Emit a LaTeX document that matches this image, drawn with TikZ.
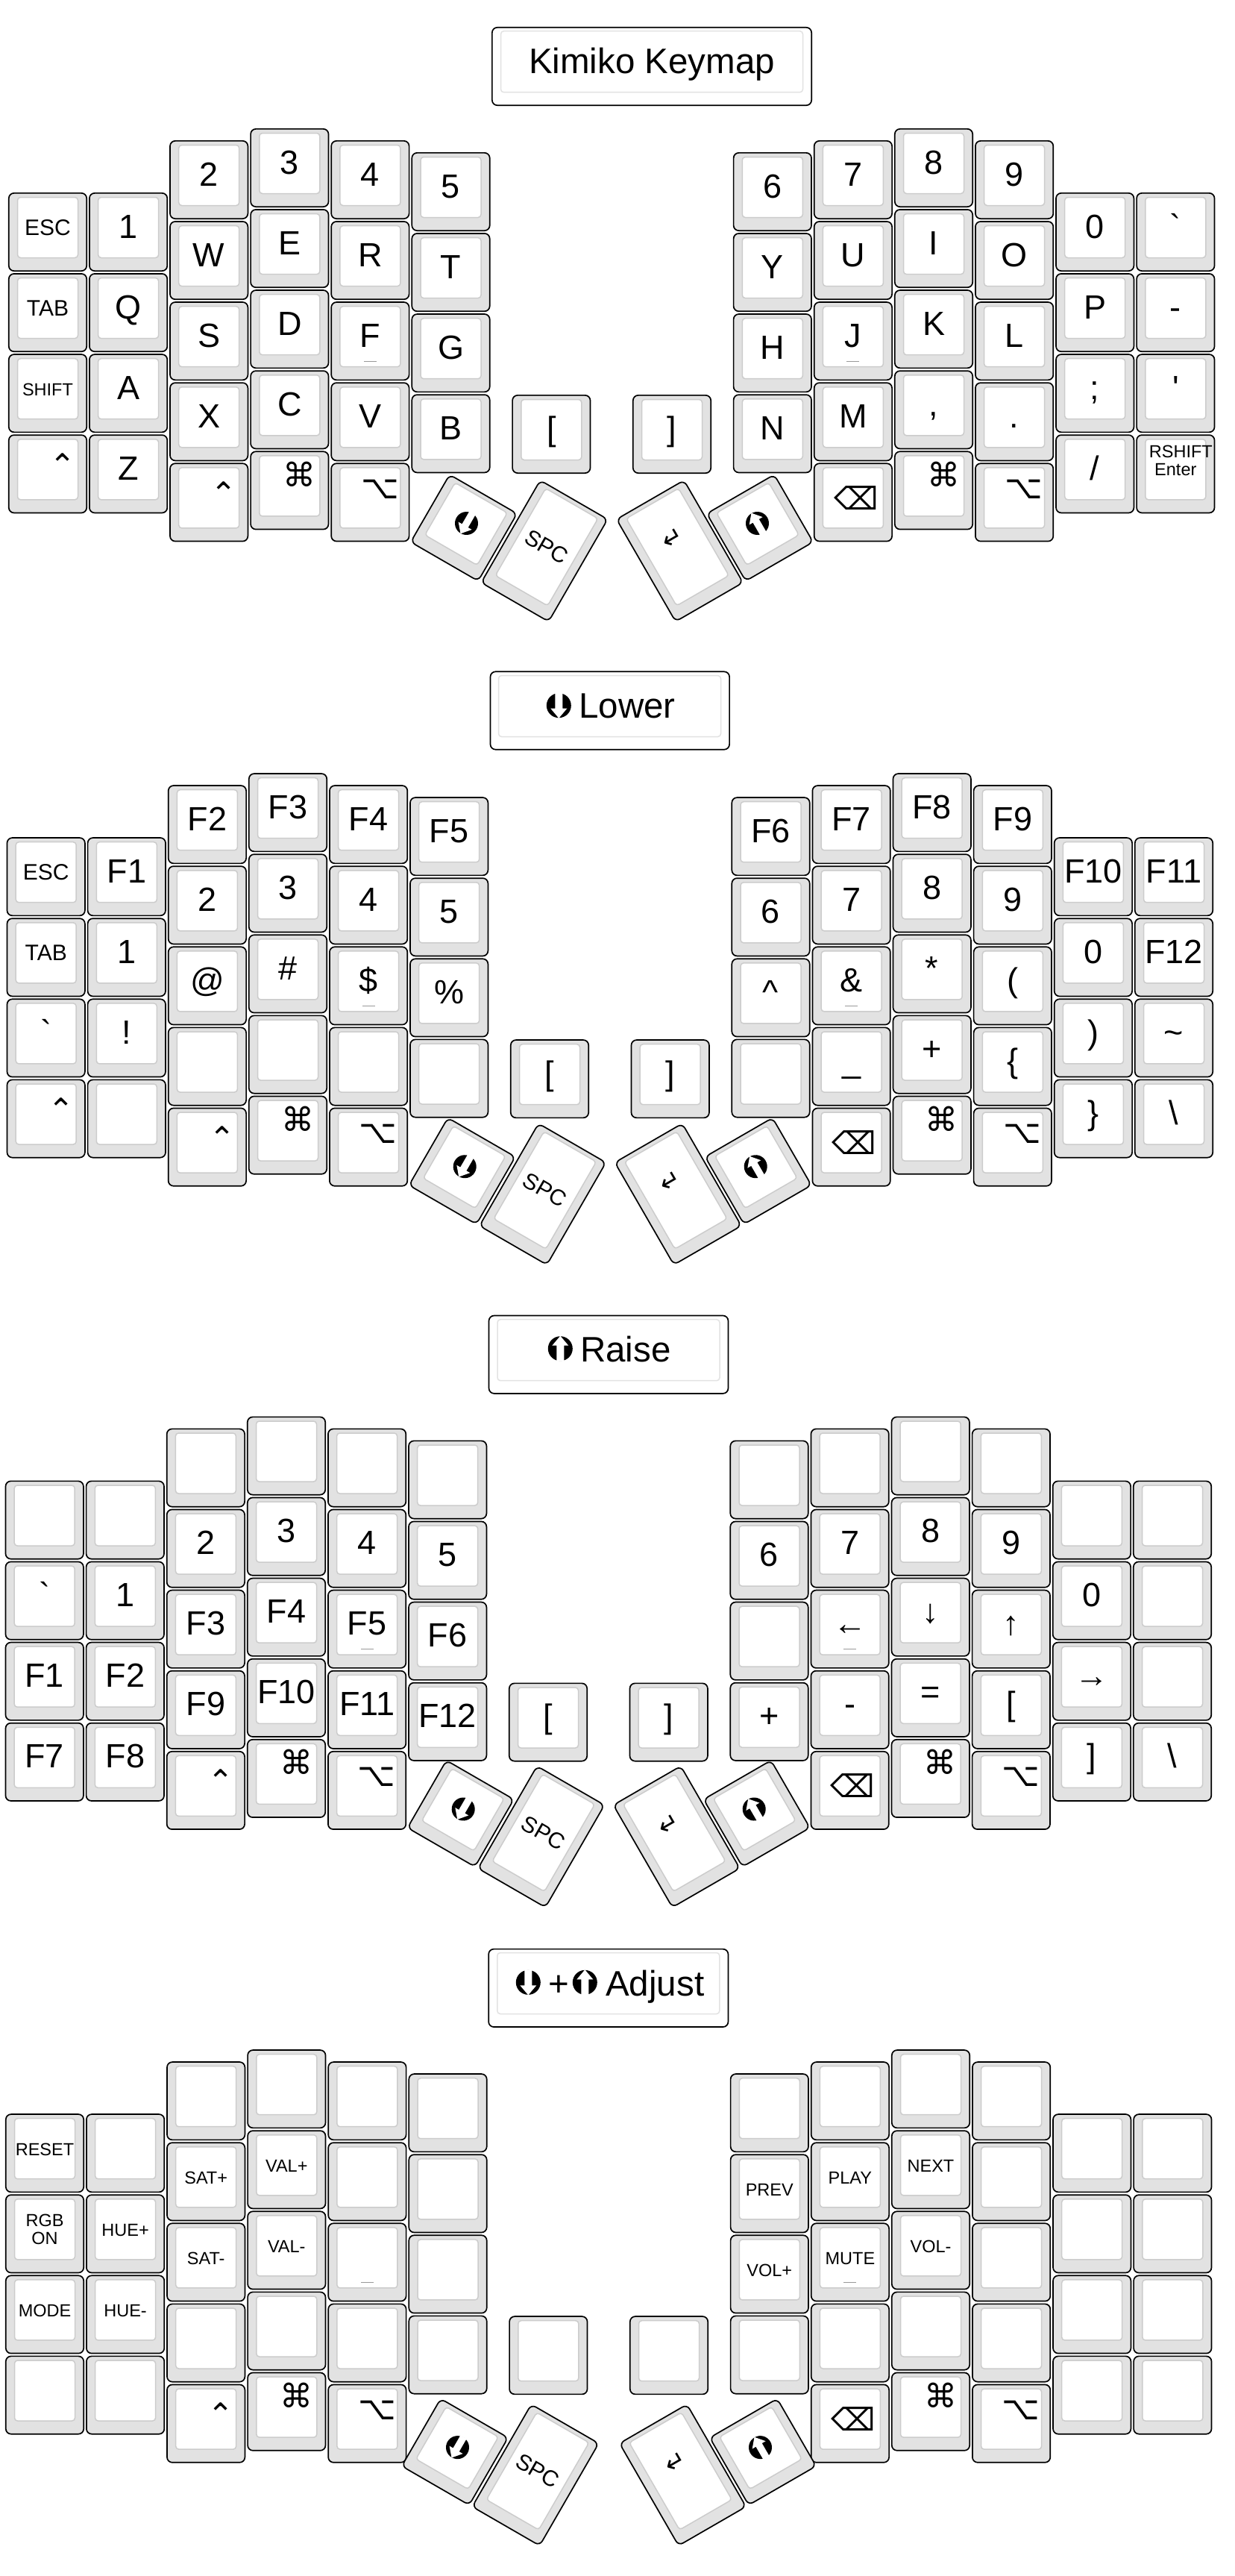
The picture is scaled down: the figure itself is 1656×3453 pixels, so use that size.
\documentclass[tikz,border=0pt]{standalone}
\usepackage{fontspec}
\setmainfont{Liberation Sans}
\newfontfamily\symfont{DejaVu Sans}
\usetikzlibrary{positioning}
\definecolor{keygrey}{HTML}{E2E2E2}
\definecolor{facegrey}{HTML}{CCCCCC}

% legend sizes, the key legend sits on one baseline
\newcommand\keysm[1]{\fontsize{23.5}{24}\selectfont\raisebox{5pt}{#1}}
\newcommand\keymd[1]{\fontsize{30}{32}\selectfont\raisebox{4pt}{#1}}
\newcommand\keytwo[5]{\fontsize{23.5}{24}\selectfont\makebox[0pt]{\hspace*{#5pt}\raisebox{#1pt}{#2}}\makebox[0pt]{\raisebox{#3pt}{#4}}}
\newcommand\keyglyph[4]{\symfont\fontsize{#3}{#3}\selectfont\hspace*{\dimexpr#1pt*2\relax}\raisebox{#2pt}{#4}}
\newcommand\lctrl{\keyglyph{20}{5}{42}{⌃}}
\newcommand\lcmd{\keyglyph{13}{13}{44}{⌘}}
\newcommand\lalt{\keyglyph{13}{13}{44}{⌥}}
\newcommand\lbksp{\keyglyph{4}{-2}{42}{⌫}}
\newcommand\lenter{\keyglyph{0}{16}{34}{↵}}

\tikzset{
    keybase/.style={rectangle, draw=black, line width=1.7pt, fill=keygrey, rounded corners=7pt, minimum width=104.4pt, transform shape},
    keyface/.style={rectangle, draw=facegrey, line width=1.5pt, fill=white, rounded corners=4pt, minimum width=81pt, transform shape},
    legend/.style={inner sep=0pt, anchor=base, transform shape, font=\fontsize{45}{48}\selectfont},
    homebar/.style={rectangle, fill=black!40, inner sep=0pt, minimum width=17pt, minimum height=1pt},
    titlebase/.style={rectangle, draw=black, line width=1.7pt, fill=white, rounded corners=7pt, minimum height=104.4pt},
    titleface/.style={rectangle, draw=keygrey, line width=1.5pt, fill=white, rounded corners=4pt, minimum height=82pt},
    titletext/.style={inner sep=0pt, anchor=base west, font=\fontsize{47.5}{50}\selectfont},
    lowericon/.pic={
        \fill[black] (0,0) circle (16.5);
        \fill[white] (-5,-17) -- (5,-17) -- (5,4) -- (11,4) -- (0,17) -- (-11,4) -- (-5,4) -- cycle;
    },
    raiseicon/.pic={
        \fill[black] (0,0) circle (16.5);
        \fill[white] (-5,17) -- (5,17) -- (5,-4) -- (11,-4) -- (0,-17) -- (-11,-4) -- (-5,-4) -- cycle;
    }
}

% name, centre x, centre y, angle, height, legend
\newcommand\keycap[6]{
    \begin{scope}[shift={(#2,#3)}, rotate=#4]
        \node[keybase, minimum height=#5pt-1.7pt] (#1) at (0,0) {};
        \node[keyface, minimum height=#5pt-25pt] (#1-face) at (0,-6) {};
        \node[legend] (#1-text) at (0,8) {#6};
    \end{scope}
}

% panel, column, legends from the top down
\newcommand\keycol[3]{
    \pgfmathsetmacro\colx{{11,119.1,227.2,335.3,443.4,551.5,982.8,1090.9,1199,1307.1,1415.2,1523.3}[#2]}
    \pgfmathsetmacro\coly{{258,258,188,172,188,204,204,188,172,188,258,258}[#2]}
    \foreach \lbl [count=\rw from 0] in {#3} {
        \keycap{#1-#2-\rw}{\colx+53}{\coly+53+108.1*\rw}{0}{106}{\lbl}
    }
}

% panel, shift of the left thumb keys, of the right ones, down
\newcommand\thumbs[4]{
    \keycap{#1-lowerkey}{622+#2}{707.5+#4}{-30}{106}{}
    \keycap{#1-spc}{730+#2}{738.5+#4}{-30}{160}{\keymd{SPC}}
    \keycap{#1-enter}{911.5+#3}{738.5+#4}{30}{160}{\lenter}
    \keycap{#1-raisekey}{1019+#3}{707.5+#4}{30}{106}{}
    \pic[rotate=-30, scale=.94] (#1-lowermark) at (625.5+#2,701.5+#4) {lowericon};
    \pic[rotate=30, scale=.94] (#1-raisemark) at (1015.5+#3,701.5+#4) {raiseicon};
    \node[homebar] (#1-leftbar) at ([yshift=-27pt]#1-4-2.center) {};
    \node[homebar] (#1-rightbar) at ([yshift=-27pt]#1-7-2.center) {};
}

\begin{document}
\begin{tikzpicture}[x=1pt, y=-1pt]
    \useasboundingbox (0,0) rectangle (1656,3453);

    % Kimiko Keymap
    \node[titlebase, minimum width=428.3pt] (a-title) at (874,89) {};
    \node[titleface, minimum width=405pt] (a-titleface) at (874,82.7) {};
    \node[titletext, anchor=base] (a-titletext) at (874,98.7) {Kimiko Keymap};
    \keycol{a}{0}{\keymd{ESC},\keymd{TAB},\keysm{SHIFT},\lctrl}
    \keycol{a}{1}{1,Q,A,Z}
    \keycol{a}{2}{2,W,S,X,\lctrl}
    \keycol{a}{3}{3,E,D,C,\lcmd}
    \keycol{a}{4}{4,R,F,V,\lalt}
    \keycol{a}{5}{5,T,G,B}
    \keycol{a}{6}{6,Y,H,N}
    \keycol{a}{7}{7,U,J,M,\lbksp}
    \keycol{a}{8}{8,I,K,{,},\lcmd}
    \keycol{a}{9}{9,O,L,{.},\lalt}
    \keycol{a}{10}{0,P,;,/}
    \keycol{a}{11}{\textasciigrave,-,\textquotesingle,\keytwo{30}{RSHIFT}{5.6}{Enter}{14}}
    \keycap{a-open}{739.3}{582}{0}{106}{[}
    \keycap{a-close}{901}{582}{0}{106}{]}
    \thumbs{a}{0}{0}{0}

    % Lower
    \node[titlebase, minimum width=320.6pt] (b-title) at (817.8,952.5) {};
    \node[titleface, minimum width=298pt] (b-titleface) at (817.5,946.5) {};
    \pic (b-titlemark) at (749.3,945.7) {lowericon};
    \node[titletext] (b-titletext) at (776,962.3) {Lower};
    \begin{scope}[shift={(-2.3,864.2)}]
        \keycol{b}{0}{\keymd{ESC},\keymd{TAB},\textasciigrave,\lctrl}
        \keycol{b}{1}{F1,1,!,{}}
        \keycol{b}{2}{F2,2,@,{},\lctrl}
        \keycol{b}{3}{F3,3,\#,{},\lcmd}
        \keycol{b}{4}{F4,4,\$,{},\lalt}
        \keycol{b}{5}{F5,5,\%,{}}
        \keycol{b}{6}{F6,6,\textasciicircum,{}}
        \keycol{b}{7}{F7,7,\&,\_,\lbksp}
        \keycol{b}{8}{F8,8,*,+,\lcmd}
        \keycol{b}{9}{F9,9,{(},\{,\lalt}
        \keycol{b}{10}{F10,0,{)},\}}
        \keycol{b}{11}{F11,F12,\textasciitilde,\textbackslash}
        \keycap{b-open}{739.3}{582}{0}{106}{[}
        \keycap{b-close}{901}{582}{0}{106}{]}
        \thumbs{b}{0}{0}{-2}
    \end{scope}

    % Raise
    \node[titlebase, minimum width=320.9pt] (c-title) at (816,1815.7) {};
    \node[titleface, minimum width=298pt] (c-titleface) at (816,1809.7) {};
    \pic (c-titlemark) at (751.3,1807.7) {raiseicon};
    \node[titletext] (c-titletext) at (778,1825.7) {Raise};
    \begin{scope}[shift={(-4.3,1726.5)}]
        \keycol{c}{0}{{},\textasciigrave,F1,F7}
        \keycol{c}{1}{{},1,F2,F8}
        \keycol{c}{2}{{},2,F3,F9,\lctrl}
        \keycol{c}{3}{{},3,F4,F10,\lcmd}
        \keycol{c}{4}{{},4,F5,F11,\lalt}
        \keycol{c}{5}{{},5,F6,F12}
        \keycol{c}{6}{{},6,{},+}
        \keycol{c}{7}{{},7,←,-,\lbksp}
        \keycol{c}{8}{{},8,↓,=,\lcmd}
        \keycol{c}{9}{{},9,↑,{[},\lalt}
        \keycol{c}{10}{{},0,→,{]}}
        \keycol{c}{11}{{},{},{},\textbackslash}
        \keycap{c-open}{739.3}{582}{0}{106}{[}
        \keycap{c-close}{901}{582}{0}{106}{]}
        \thumbs{c}{0}{0}{-3}
    \end{scope}

    % Adjust
    \node[titlebase, minimum width=321.3pt] (d-title) at (815.8,2664.8) {};
    \node[titleface, minimum width=298pt] (d-titleface) at (815.8,2658.5) {};
    \pic (d-titlemarka) at (708.3,2657.3) {lowericon};
    \node[titletext, anchor=base] (d-titleplus) at (749.5,2675) {+};
    \pic (d-titlemarkb) at (784.3,2657.3) {raiseicon};
    \node[titletext] (d-titletext) at (812,2675) {Adjust};
    \begin{scope}[shift={(-4,2575.2)}]
        \keycol{d}{0}{\keysm{RESET},\keytwo{18.3}{RGB}{-6}{ON}{0},\keysm{MODE},{}}
        \keycol{d}{1}{{},\keysm{HUE+},\keysm{HUE-},{}}
        \keycol{d}{2}{{},\keysm{SAT+},\keysm{SAT-},{},\lctrl}
        \keycol{d}{3}{{},\keysm{VAL+},\keysm{VAL-},{},\lcmd}
        \keycol{d}{4}{{},{},{},{},\lalt}
        \keycol{d}{5}{{},{},{},{}}
        \keycol{d}{6}{{},\keysm{PREV},\keysm{VOL+},{}}
        \keycol{d}{7}{{},\keysm{PLAY},\keysm{MUTE},{},\lbksp}
        \keycol{d}{8}{{},\keysm{NEXT},\keysm{VOL-},{},\lcmd}
        \keycol{d}{9}{{},{},{},{},\lalt}
        \keycol{d}{10}{{},{},{},{}}
        \keycol{d}{11}{{},{},{},{}}
        \keycap{d-open}{739.3}{582}{0}{106}{}
        \keycap{d-close}{901}{582}{0}{106}{}
        \thumbs{d}{-8}{8}{3.9}
    \end{scope}
\end{tikzpicture}
\end{document}
